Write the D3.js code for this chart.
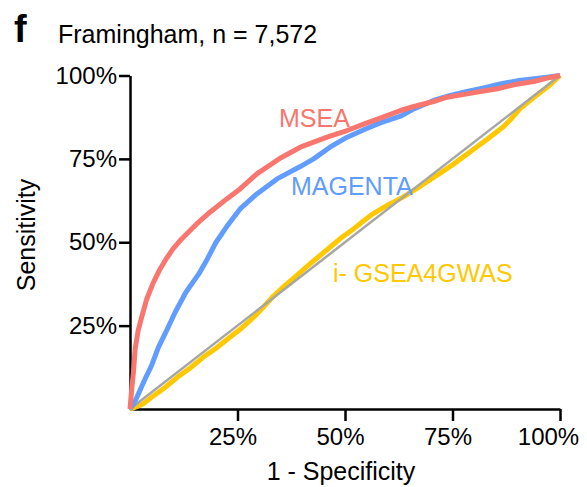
<!DOCTYPE html>
<html>
<head>
<meta charset="utf-8">
<script src="https://cdn.jsdelivr.net/npm/d3@7"></script>
<style>
  body { margin: 0; background: #fff; }
  text { font-family: "Liberation Sans", Arial, sans-serif; }
</style>
</head>
<body>
<svg></svg>
<script>
// ROC curves as [1 - specificity, sensitivity]
var mseaPoints = [[0,0],[.002,.03],[.004,.06],[.008,.11],[.012,.18],[.019,.235],[.027,.275],[.039,.33],[.054,.378],[.07,.42],[.085,.452],[.1,.48],[.12,.51],[.155,.555],[.186,.59],[.225,.63],[.256,.66],[.295,.705],[.349,.752],[.396,.785],[.427,.8],[.465,.818],[.505,.835],[.545,.855],[.582,.872],[.629,.895],[.66,.907],[.706,.922],[.737,.935],[.784,.945],[.815,.952],[.861,.962],[.892,.972],[.939,.982],[.97,.992],[1,1]];
var magentaPoints = [[0,0],[.008,.015],[.016,.035],[.035,.09],[.05,.13],[.066,.185],[.085,.235],[.105,.29],[.13,.35],[.16,.405],[.18,.45],[.2,.5],[.225,.547],[.256,.6],[.295,.645],[.342,.69],[.396,.727],[.427,.75],[.465,.785],[.505,.815],[.545,.838],[.582,.858],[.629,.878],[.66,.9],[.706,.925],[.745,.94],[.784,.952],[.82,.962],[.861,.975],[.9,.984],[.94,.99],[.97,.995],[1,1]];
var gseaPoints = [[0,0],[.01,.004],[.03,.015],[.05,.035],[.08,.063],[.11,.095],[.14,.123],[.17,.155],[.2,.182],[.23,.213],[.26,.243],[.29,.278],[.31,.305],[.333,.338],[.36,.37],[.39,.403],[.411,.427],[.44,.458],[.465,.485],[.489,.511],[.52,.54],[.545,.566],[.566,.586],[.6,.612],[.636,.636],[.67,.664],[.715,.702],[.75,.732],[.792,.772],[.83,.808],[.869,.847],[.89,.875],[.908,.902],[.947,.942],[.978,.973],[1,1]];
var diagonal = [[0,0],[1,1]];

var tickValues = [0.25, 0.5, 0.75, 1];

var svgWidth = 587, svgHeight = 487;

var svg = d3.select("svg")
    .attr("width", svgWidth)
    .attr("height", svgHeight);

var x = d3.scaleLinear().domain([0, 1]).range([130, 560]);
var y = d3.scaleLinear().domain([0, 1]).range([409, 75.5]);

var fmt = d3.format(".0%");

// axes
var xAxis = svg.append("g")
    .attr("transform", "translate(0," + y(0) + ")")
    .call(d3.axisBottom(x).tickValues(tickValues).tickFormat(fmt).tickSize(12).tickPadding(7).tickSizeOuter(0));

var yAxis = svg.append("g")
    .attr("transform", "translate(" + x(0) + ",0)")
    .call(d3.axisLeft(y).tickValues(tickValues).tickFormat(fmt).tickSize(11).tickPadding(2).tickSizeOuter(0));

svg.selectAll(".domain, .tick line")
    .attr("stroke", "#000")
    .attr("stroke-width", 2.5);
svg.selectAll(".tick text")
    .attr("fill", "#000")
    .style("font-size", "24px")
    .style("font-family", "Liberation Sans, Arial, sans-serif");

// x labels sit a bit left of their ticks, the last one pulled in to fit
xAxis.selectAll(".tick text")
    .attr("dx", function(d) { return d === 1 ? -12 : -5; });

var line = d3.line()
    .x(function(d) { return x(d[0]); })
    .y(function(d) { return y(d[1]); });

// yellow first, the grey diagonal sits on top of it
var series = [
    { pts: gseaPoints, color: "#FFC800", width: 5 },
    { pts: diagonal, color: "#A6A6A6", width: 2.5 },
    { pts: magentaPoints, color: "#619CFF", width: 5 },
    { pts: mseaPoints, color: "#F8766D", width: 5 }
];

svg.selectAll("path.roc")
    .data(series)
    .enter()
    .append("path")
    .attr("class", "roc")
    .attr("d", function(d) { return line(d.pts); })
    .attr("fill", "none")
    .attr("stroke", function(d) { return d.color; })
    .attr("stroke-width", function(d) { return d.width; })
    .attr("stroke-linejoin", "round");

// curve labels
var labels = [
    { text: "MSEA", x: 279, y: 127, color: "#F8766D" },
    { text: "MAGENTA", x: 291, y: 195, color: "#619CFF" },
    { text: "i- GSEA4GWAS", x: 333, y: 282, color: "#FFC800" }
];

svg.selectAll("text.lab")
    .data(labels)
    .enter()
    .append("text")
    .attr("class", "lab")
    .attr("x", function(d) { return d.x; })
    .attr("y", function(d) { return d.y; })
    .attr("fill", function(d) { return d.color; })
    .style("font-size", "25px")
    .text(function(d) { return d.text; });

// axis titles
svg.append("text")
    .attr("x", 341)
    .attr("y", 480)
    .attr("text-anchor", "middle")
    .style("font-size", "25px")
    .text("1 - Specificity");

svg.append("text")
    .attr("transform", "translate(35,235) rotate(-90)")
    .attr("text-anchor", "middle")
    .style("font-size", "25px")
    .text("Sensitivity");

// panel letter + title
svg.append("text")
    .attr("x", 14)
    .attr("y", 42)
    .style("font-size", "38px")
    .style("font-weight", "bold")
    .text("f");

svg.append("text")
    .attr("x", 58)
    .attr("y", 43)
    .style("font-size", "25px")
    .text("Framingham, n = 7,572");
</script>
</body>
</html>
